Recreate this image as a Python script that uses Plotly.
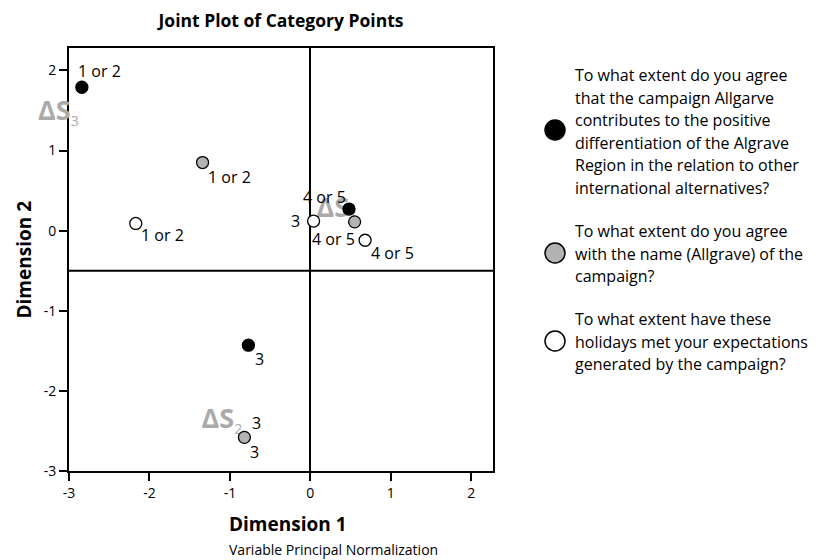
import plotly.graph_objects as go

# ---------------- data ----------------
series_names = ["Q1 differentiation", "Q2 name", "Q3 expectations"]

q1_labels = ["1 or 2", "4 or 5", "3"]
q1_x = [-2.84, 0.48, -0.77]
q1_y = [1.79, 0.27, -1.43]

q2_labels = ["1 or 2", "4 or 5", "3"]
q2_x = [-1.34, 0.55, -0.82]
q2_y = [0.85, 0.11, -2.58]

q3_labels = ["1 or 2", "3", "4 or 5"]
q3_x = [-2.17, 0.04, 0.68]
q3_y = [0.09, 0.12, -0.12]

ds_names = ["3", "1", "2"]
ds_x = [-3.13, 0.33, -1.10]
ds_y = [1.50, 0.26, -2.38]

x_ticks = [-3, -2, -1, 0, 1, 2]
x_tick_labels = ["-3", "-2", "-1", "0", "1", "2"]
y_ticks = [-3, -2, -1, 0, 1, 2]
y_tick_labels = ["-3", "-2", "-1", "0", "1", "2"]
x_range = [-3, 2.27]
y_range = [-3, 2.28]
ref_line_y = -0.5

legend_texts = [
    ["To what extent do you agree", "that the campaign Allgarve", "contributes to the positive",
     "differentiation of the Algrave", "Region in the relation to other", "international alternatives?"],
    ["To what extent do you agree", "with the name (Allgrave) of the", "campaign?"],
    ["To what extent have these", "holidays met your expectations", "generated by the campaign?"],
]

# ---------------- style ----------------
FONT = "Open Sans"
fills = ["#000000", "#b3b3b3", "#ffffff"]
# label pixel offsets (dx right, dy down) per point; list of offsets per point
label_offsets = [
    [[(18, -16)], [(-24, -12)], [(11, 14)]],
    [[(27, 14)], [(-21, 17)], [(10, 15), (12, -14)]],
    [[(27, 12)], [(-18, 0)], [(27, 13)]],
]
OFF = 8  # page body margin in the browser
W, H = 820 - OFF, 560 - OFF
PL, PT, PW, PH = 69, 48, 424, 423   # plot area in page pixels
ML, MT = PL - OFF, PT - OFF
MR, MB = W - ML - PW, H - MT - PH


def px2x(px):
    return (px - PL) / PW


def py2y(py):
    return (PT + PH - py) / PH


ds_labels = ["ΔS<sub><span style='font-size:14px;font-weight:normal'>%s</span></sub>" % n
             for n in ds_names]

fig = go.Figure()

# ΔS labels: inside the axes drawn beneath the markers, outside as paper annotations
ds_font = dict(family=FONT, size=27, color="#aaaaaa", weight="bold")
inside = [i for i in range(len(ds_x))
          if x_range[0] <= ds_x[i] <= x_range[1] and y_range[0] <= ds_y[i] <= y_range[1]]
outside = [i for i in range(len(ds_x)) if i not in inside]
fig.add_trace(go.Scatter(
    x=[ds_x[i] for i in inside], y=[ds_y[i] for i in inside], mode="text",
    text=[ds_labels[i] for i in inside], textposition="middle center",
    textfont=ds_font, showlegend=False, hoverinfo="skip"))
for i in outside:
    fig.add_annotation(xref="paper", yref="paper",
                       x=(ds_x[i] - x_range[0]) / (x_range[1] - x_range[0]),
                       y=(ds_y[i] - y_range[0]) / (y_range[1] - y_range[0]),
                       text=ds_labels[i], showarrow=False,
                       xanchor="center", yanchor="middle", font=ds_font)

series = [(q1_x, q1_y, q1_labels), (q2_x, q2_y, q2_labels), (q3_x, q3_y, q3_labels)]
for i, (xs, ys, labs) in enumerate(series):
    fig.add_trace(go.Scatter(
        x=xs, y=ys, mode="markers", name=series_names[i], showlegend=False,
        marker=dict(size=12, color=fills[i], line=dict(color="#000000", width=1.3)),
        cliponaxis=False))
    for j, lab in enumerate(labs):
        for dx, dy in label_offsets[i][j]:
            fig.add_annotation(x=xs[j], y=ys[j], text=lab, showarrow=False,
                               xshift=dx, yshift=-dy,
                               font=dict(family=FONT, size=16, color="#000000"))

fig.add_hline(y=ref_line_y, line=dict(color="#000000", width=2))

# legend (right side)
legend_marker_py = [130, 253, 341]
legend_first_line_py = [75, 231, 319]
line_step = 22.5
for k, lines in enumerate(legend_texts):
    fig.add_shape(type="circle", xref="paper", yref="paper",
                  xsizemode="pixel", ysizemode="pixel",
                  xanchor=px2x(555), yanchor=py2y(legend_marker_py[k]),
                  x0=-10, x1=10, y0=-10, y1=10,
                  fillcolor=fills[k], line=dict(color="#000000", width=1.5))
    for m, line in enumerate(lines):
        fig.add_annotation(xref="paper", yref="paper", x=px2x(573),
                           y=py2y(legend_first_line_py[k] + m * line_step),
                           xanchor="left", yanchor="middle", showarrow=False, text=line,
                           font=dict(family=FONT, size=16, color="#000000"))

# axis titles
fig.add_annotation(xref="paper", yref="paper", x=px2x(227), y=py2y(524),
                   xanchor="left", yanchor="middle", showarrow=False, text="Dimension 1",
                   font=dict(family=FONT, size=19, color="#000000", weight="bold"))
fig.add_annotation(xref="paper", yref="paper", x=px2x(227), y=py2y(549),
                   xanchor="left", yanchor="middle", showarrow=False,
                   text="Variable Principal Normalization",
                   font=dict(family=FONT, size=14, color="#000000"))
fig.add_annotation(xref="paper", yref="paper", x=px2x(23), y=0.5,
                   xanchor="center", yanchor="middle", showarrow=False, text="Dimension 2",
                   textangle=-90,
                   font=dict(family=FONT, size=19, color="#000000", weight="bold"))

axis_common = dict(showgrid=False, showline=True, mirror=True, linecolor="#000000",
                   linewidth=2, ticks="outside", ticklen=8, tickwidth=2,
                   tickcolor="#000000", tickfont=dict(family=FONT, size=14, color="#000000"))

fig.update_xaxes(range=x_range, tickvals=x_ticks, ticktext=x_tick_labels,
                 zeroline=True, zerolinecolor="#000000", zerolinewidth=2, **axis_common)
fig.update_yaxes(range=y_range, tickvals=y_ticks, ticktext=y_tick_labels,
                 zeroline=False, **axis_common)

fig.update_layout(
    width=W, height=H,
    margin=dict(l=ML, r=MR, t=MT, b=MB),
    paper_bgcolor="#ffffff", plot_bgcolor="#ffffff",
    title=dict(text="Joint Plot of Category Points", x=0.5, xref="paper",
               y=1 - (21 - OFF) / H, yref="container", yanchor="middle",
               font=dict(family=FONT, size=17.5, color="#000000", weight="bold")),
    showlegend=False,
)

fig.write_html("out.html")
